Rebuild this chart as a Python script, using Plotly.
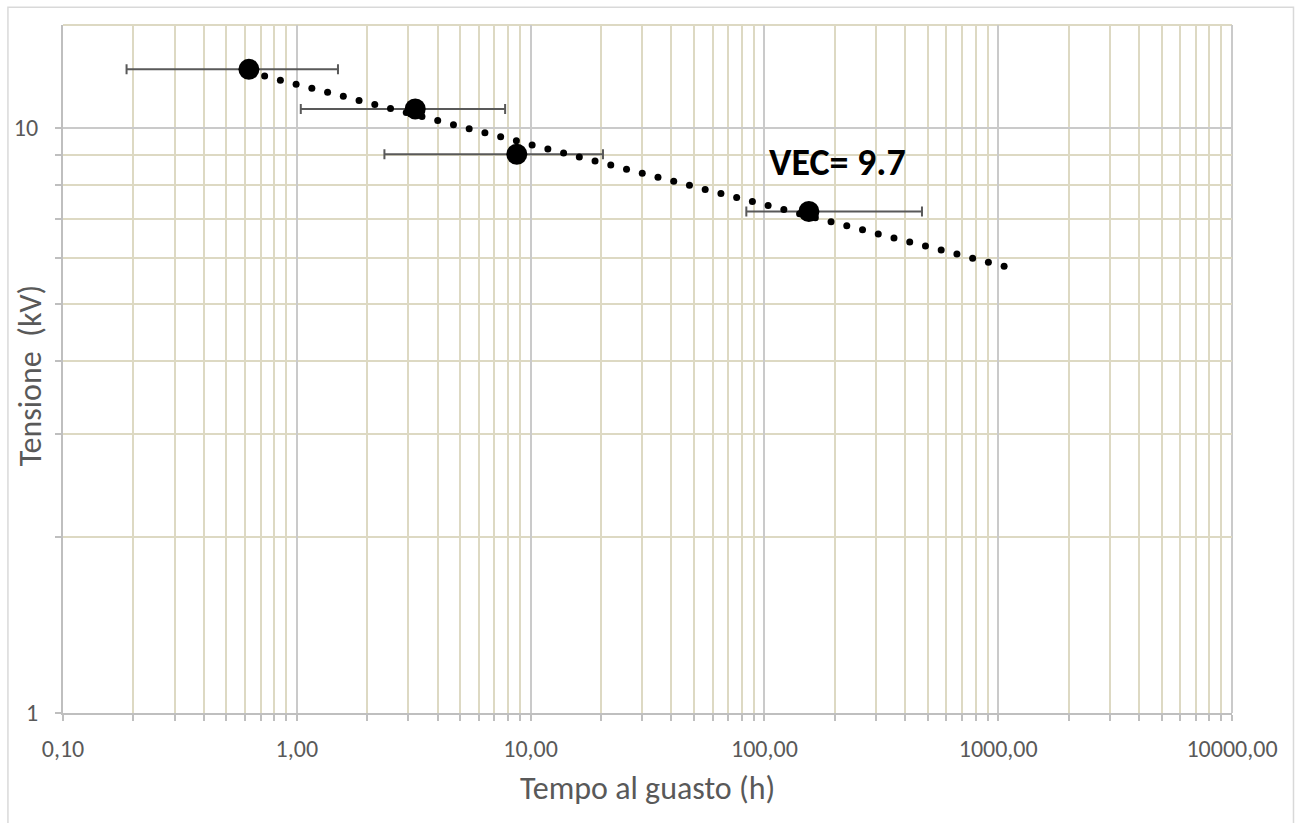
import numpy as np
import plotly.graph_objects as go

# Failure times (h) and applied voltage (kV)
tempo = [0.624, 3.21, 8.73, 155.0]
tensione = [12.6, 10.78, 9.02, 7.2]
# Horizontal error range (lower / upper time bounds, h)
tempo_min = [0.187, 1.04, 2.37, 83.7]
tempo_max = [1.50, 7.78, 20.4, 472.0]

x_ticks = [0.1, 1, 10, 100, 1000, 10000]
x_ticktext = ["0,10", "1,00", "10,00", "100,00", "1000,00", "10000,00"]
y_ticks = [1, 10]
y_ticktext = ["1", "10"]
y_top = 15
trend_end = 1060
vec_label = "VEC= 9.7"

TEXT = "#595959"
GRID_MAJOR = "#cacaca"
GRID_MINOR = "#ddd9c3"
AXIS = "#bfbfbf"
FONT = "Calibri, Carlito, Lato, sans-serif"

err_plus = [hi - t for hi, t in zip(tempo_max, tempo)]
err_minus = [t - lo for lo, t in zip(tempo_min, tempo)]

# Power-law trend line (linear fit in log-log space), drawn as round dots
slope, intercept = np.polyfit(np.log10(tempo), np.log10(tensione), 1)
lx = np.linspace(np.log10(min(tempo)), np.log10(trend_end), 49)
trend_x = 10 ** lx
trend_y = 10 ** (intercept + slope * lx)

minor_x = [m * 10.0 ** e for e in range(-1, 4) for m in range(2, 10)]
minor_y = list(range(2, 10))

fig = go.Figure()
fig.add_trace(go.Scatter(
    x=tempo, y=tensione, mode="markers",
    marker=dict(color="black", size=21),
    error_x=dict(type="data", symmetric=False, array=err_plus, arrayminus=err_minus,
                 color=TEXT, thickness=2, width=5),
    showlegend=False, hoverinfo="x+y",
))
fig.add_trace(go.Scatter(
    x=trend_x, y=trend_y, mode="markers",
    marker=dict(color="black", size=7),
    showlegend=False, hoverinfo="skip",
))

axis_common = dict(
    showline=True, linecolor=AXIS, linewidth=2,
    ticks="outside", ticklen=6, tickcolor=AXIS, tickwidth=2,
    showgrid=True, gridcolor=GRID_MAJOR, gridwidth=2,
    tickfont=dict(family=FONT, size=24, color=TEXT),
    zeroline=False,
)

fig.update_xaxes(
    type="log", range=[-1, 4], tickvals=x_ticks, ticktext=x_ticktext,
    ticklabelstandoff=7,
    minor=dict(tickvals=minor_x, showgrid=True, gridcolor=GRID_MINOR, gridwidth=2,
               ticks="outside", ticklen=6, tickcolor=AXIS, tickwidth=1.5),
    **axis_common,
)
fig.update_yaxes(
    type="log", range=[0, np.log10(y_top)], tickvals=y_ticks, ticktext=y_ticktext,
    ticklabelstandoff=12,
    minor=dict(tickvals=minor_y, showgrid=True, gridcolor=GRID_MINOR, gridwidth=2,
               ticks="outside", ticklen=6, tickcolor=AXIS, tickwidth=1.5),
    **axis_common,
)

shapes = [
    # top edge of the plot area
    dict(type="line", xref="paper", yref="paper", x0=0, x1=1, y0=1, y1=1,
         line=dict(color=GRID_MINOR, width=2), layer="below"),
    # right edge of the plot area
    dict(type="line", xref="paper", yref="paper", x0=1, x1=1, y0=0, y1=1,
         line=dict(color=GRID_MAJOR, width=2), layer="below"),
    # chart frame
    dict(type="rect", xref="paper", yref="paper", x0=-0.0471, x1=1.0526, y0=-0.2, y1=1.0257,
         line=dict(color="#d9d9d9", width=1.5), layer="below"),
]

annotations = [
    dict(text="Tempo al guasto (h)", xref="paper", yref="paper", x=0.5, y=-0.110,
         xanchor="center", yanchor="middle", showarrow=False,
         font=dict(family=FONT, size=32, color=TEXT)),
    dict(text="Tensione\u00a0 (kV)", xref="paper", yref="paper", x=-0.0282, y=0.491,
         xanchor="center", yanchor="middle", textangle=-90, showarrow=False,
         font=dict(family=FONT, size=32, color=TEXT)),
    dict(text="<b>" + vec_label + "</b>", xref="paper", yref="paper", x=0.6023, y=0.801,
         xanchor="left", yanchor="middle", showarrow=False,
         font=dict(family=FONT, size=38, color="black")),
]

fig.update_layout(
    width=1296, height=823, autosize=False,
    margin=dict(l=63, r=64, t=25, b=110),
    paper_bgcolor="white", plot_bgcolor="white",
    shapes=shapes, annotations=annotations,
)

fig.write_html("out.html")
